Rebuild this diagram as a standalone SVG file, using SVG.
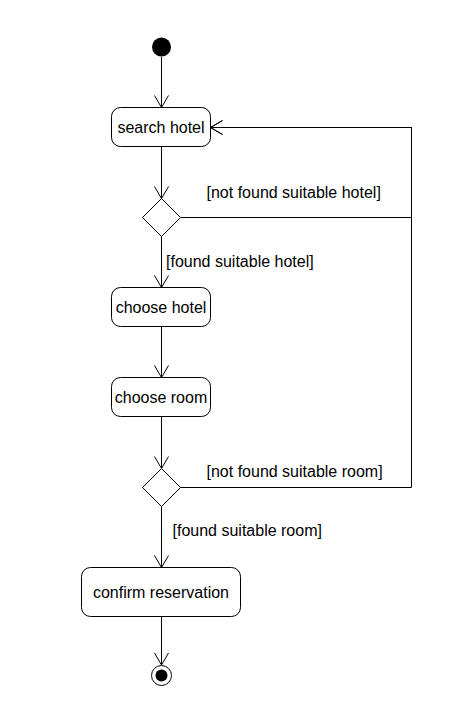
<svg xmlns="http://www.w3.org/2000/svg" width="450" height="723" viewBox="0 0 450 723">
<style>
.act{fill:#fff;stroke:#000;stroke-width:1}
.dec{fill:#fff;stroke:#000;stroke-width:1}
.t{font-family:"Liberation Sans",Arial,sans-serif;font-size:16px;fill:#000}
.c{text-anchor:middle}
.edge{fill:none;stroke:#000;stroke-width:1;marker-end:url(#arr)}
</style>
<defs>
<marker id="arr" viewBox="-13 -8 14 16" refX="0" refY="0" markerWidth="14" markerHeight="16" markerUnits="userSpaceOnUse" orient="auto">
<path d="M-12,-7 L0,0 L-12,7" fill="none" stroke="#000" stroke-width="1"/>
</marker>
</defs>
<rect width="450" height="723" fill="#fff"/>
<g id="connectors">
<path class="edge" d="M161.5,57 L161.5,107.5"/>
<path class="edge" d="M161.5,146.5 L161.5,198.5"/>
<path class="edge" d="M161.5,236.5 L161.5,287.5"/>
<path class="edge" d="M161.5,326.5 L161.5,377.5"/>
<path class="edge" d="M161.5,416.5 L161.5,468.5"/>
<path class="edge" d="M161.5,506.5 L161.5,567.5"/>
<path class="edge" d="M161.5,616.5 L161.5,665"/>
<path class="edge" d="M180.5,217.5 L411.5,217.5 L411.5,127.5 L210.5,127.5"/>
<path class="edge" d="M180.5,487.5 L411.5,487.5 L411.5,127.5 L210.5,127.5"/>
<text class="t" x="206.5" y="197.5">[not found suitable hotel]</text>
<text class="t" x="166" y="266.5">[found suitable hotel]</text>
<text class="t" x="206.5" y="477">[not found suitable room]</text>
<text class="t" x="172.5" y="536">[found suitable room]</text>
</g>
<g id="initial">
<circle cx="161.5" cy="47" r="9.5" fill="#000"/>
</g>
<g id="search-hotel">
<rect class="act" x="111.5" y="107.5" width="99" height="39" rx="9" ry="9"/>
<text class="t c" x="161" y="133.3">search hotel</text>
</g>
<g id="decision-hotel">
<polygon class="dec" points="161.5,198.5 180.5,217.5 161.5,236.5 142.5,217.5"/>
</g>
<g id="choose-hotel">
<rect class="act" x="111.5" y="287.5" width="99" height="39" rx="9" ry="9"/>
<text class="t c" x="161" y="313.3">choose hotel</text>
</g>
<g id="choose-room">
<rect class="act" x="111.5" y="377.5" width="99" height="39" rx="9" ry="9"/>
<text class="t c" x="161" y="403.3">choose room</text>
</g>
<g id="decision-room">
<polygon class="dec" points="161.5,468.5 180.5,487.5 161.5,506.5 142.5,487.5"/>
</g>
<g id="confirm-reservation">
<rect class="act" x="81.5" y="567.5" width="159" height="49" rx="9" ry="9"/>
<text class="t c" x="161" y="597.5">confirm reservation</text>
</g>
<g id="final">
<circle cx="161.5" cy="675.5" r="10" fill="#fff" stroke="#000" stroke-width="1"/>
<circle cx="161.5" cy="675.5" r="6" fill="#000"/>
</g>
</svg>
